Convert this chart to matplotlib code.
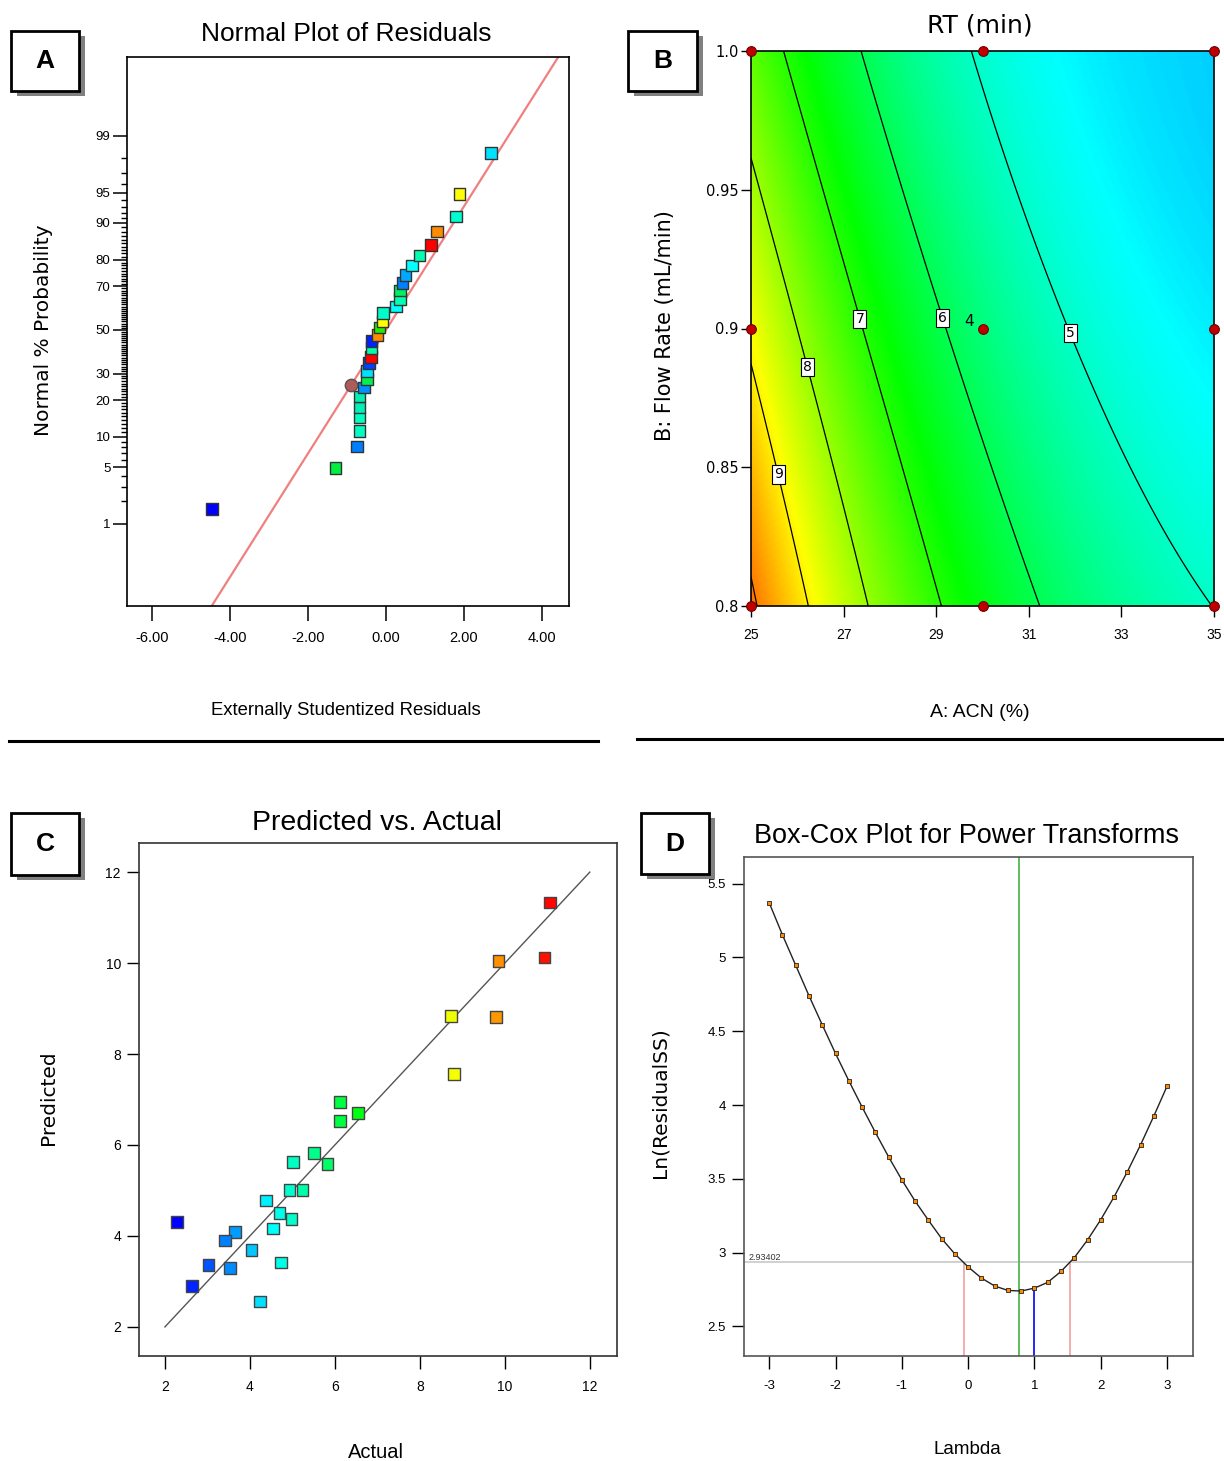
import numpy as np
import matplotlib
matplotlib.use("Agg")
import matplotlib.pyplot as plt
from matplotlib.colors import LinearSegmentedColormap, Normalize
from matplotlib.patches import Rectangle
from matplotlib.lines import Line2D
from statistics import NormalDist

plt.rcParams['axes.unicode_minus'] = False

W, H = 1224, 1461
ARIAL = ['Liberation Sans', 'DejaVu Sans']
SANS = ['DejaVu Sans']

# ---- A: normal probability plot of residuals
resid = [-4.46, -1.30, -0.74, -0.68, -0.68, -0.68, -0.68, -0.56, -0.49, -0.49, -0.44, -0.38,
         -0.37, -0.37, -0.22, -0.17, -0.09, -0.08, 0.25, 0.35, 0.35, 0.42, 0.50, 0.66, 0.86,
         1.16, 1.31, 1.79, 1.88, 2.69]
prob = [1.58, 4.85, 8.08, 11.3, 14.7, 17.6, 21.2, 24.5, 27.8, 31.2, 34.5, 37.1,
        41.3, 44.8, 47.6, 51.2, 54.0, 57.9, 61.0, 64.4, 68.1, 71.2, 74.5, 77.9, 81.3,
        84.6, 88.1, 91.3, 94.8, 98.3]
resid_col = ['#0000ff', '#00f040', '#0080ff', '#00ffc0', '#00ffc0', '#00f0b8', '#00f0b0', '#0090ff',
             '#00f050', '#00e0ff', '#0040ff', '#ff0000', '#00ffa8', '#0020ff', '#ff8c00', '#20f000',
             '#ffff00', '#00ffc8', '#00ffff', '#00ffb0', '#00f060', '#0080ff', '#00a8ff', '#00ffff',
             '#00ffb0', '#ff0000', '#ff8c00', '#00ffd0', '#ffff00', '#00e0ff']
flag_resid, flag_prob = -0.90, 25.5
prob_ticks = [1, 5, 10, 20, 30, 50, 70, 80, 90, 95, 99]
line_sigma = 1.35

# ---- B: RT response surface, ACN (%) x flow rate (mL/min)
acn_levels = [25, 30, 35]
flow_levels = [0.8, 0.9, 1.0]
center_reps = 4
contour_levels = [5, 6, 7, 8, 9, 10]
# coded-unit model terms: 1, A, B, AB, A^2, B^2, A^2B, AB^2, A^3, B^3
rt_coef = [5.64700, -2.08095, -0.84984, 0.43576, 0.95263, 0.08376, -0.06966, 0.09664, -0.14770, 0.04256]
label_pos = [(25.61, 0.8475), (26.24, 0.8863), (27.39, 0.9037), (29.17, 0.904), (31.85, 0.898)]

# ---- C: predicted vs actual
actual = [11.06, 10.93, 9.85, 9.79, 8.74, 8.81, 6.12, 6.55, 6.12, 5.51, 5.83, 5.02, 4.93, 5.24,
          4.38, 4.70, 4.98, 4.55, 3.65, 3.41, 4.04, 2.29, 3.03, 3.53, 4.73, 2.64, 4.24]
predicted = [11.33, 10.12, 10.04, 8.81, 8.84, 7.56, 6.94, 6.70, 6.53, 5.82, 5.58, 5.62, 5.01, 5.01,
             4.78, 4.51, 4.37, 4.16, 4.09, 3.90, 3.69, 4.30, 3.36, 3.29, 3.42, 2.90, 2.56]

# ---- D: Box-Cox
lam = [-3.0, -2.8, -2.6, -2.4, -2.2, -2.0, -1.8, -1.6, -1.4, -1.2, -1.0, -0.8, -0.6, -0.4, -0.2,
       0.0, 0.2, 0.4, 0.6, 0.8, 1.0, 1.2, 1.4, 1.6, 1.8, 2.0, 2.2, 2.4, 2.6, 2.8, 3.0]
ln_rss = [5.370, 5.152, 4.946, 4.740, 4.543, 4.349, 4.165, 3.987, 3.815, 3.649, 3.493, 3.349,
          3.220, 3.095, 2.991, 2.903, 2.828, 2.774, 2.744, 2.740, 2.760, 2.799, 2.873, 2.966,
          3.086, 3.224, 3.378, 3.548, 3.731, 3.926, 4.129]
ci_level = 2.93402
lam_best, lam_low, lam_high, lam_current = 0.77, -0.07, 1.54, 1.0

rt_cmap = LinearSegmentedColormap.from_list('rt', ['#0000ff', '#00ffff', '#00ff00', '#ffff00', '#ff0000'])
rt_norm = Normalize(2.3, 11.1)

fig = plt.figure(figsize=(W / 100, H / 100), dpi=100)


def px_axes(x0, y0, x1, y1):
    return fig.add_axes([x0 / W, 1 - y1 / H, (x1 - x0) / W, (y1 - y0) / H])


def ftext(x, y, s, **kw):
    fig.text(x / W, 1 - y / H, s, ha='center', va='center', **kw)


def letter_box(x0, y0, x1, y1, s):
    fig.add_artist(Rectangle(((x0 + 6) / W, 1 - (y1 + 5) / H), (x1 - x0) / W, (y1 - y0) / H,
                             transform=fig.transFigure, fc='#808080', ec='none'))
    fig.add_artist(Rectangle((x0 / W, 1 - y1 / H), (x1 - x0) / W, (y1 - y0) / H,
                             transform=fig.transFigure, fc='white', ec='black', lw=2))
    ftext((x0 + x1) / 2, (y0 + y1) / 2, s, fontsize=19, fontweight='bold', family=ARIAL)


nd = NormalDist()

# ---------------- A
ax = px_axes(127, 57, 569, 606)
z = [nd.inv_cdf(p / 100) for p in prob]
ax.axline((0, 0), slope=1 / line_sigma, color='#f08080', lw=1.6, zorder=2)
ax.scatter(resid, z, marker='s', s=70, c=resid_col, edgecolors='#333333', linewidths=1.0, zorder=3)
ax.scatter([flag_resid], [nd.inv_cdf(flag_prob / 100)], marker='o', s=80, c='#b05a5a',
           edgecolors='#555555', linewidths=1.0, zorder=4)
ax.set_xlim(-6.64, 4.69)
ax.set_ylim(-3.31, 3.27)
ax.set_xticks([-6, -4, -2, 0, 2, 4])
ax.set_xticklabels([f'{v:.2f}' for v in [-6, -4, -2, 0, 2, 4]], family=ARIAL, fontsize=10.5)
ax.set_yticks([nd.inv_cdf(p / 100) for p in prob_ticks])
ax.set_yticklabels([str(p) for p in prob_ticks], family=ARIAL, fontsize=9.5)
ax.set_yticks([nd.inv_cdf(p / 100) for p in range(1, 100) if p not in prob_ticks], minor=True)
ax.tick_params(axis='x', length=11, width=1.1, pad=7)
ax.tick_params(axis='y', which='major', length=10, width=1.1, pad=2)
ax.tick_params(axis='y', which='minor', length=4, width=1.0)
for s in ax.spines.values():
    s.set_linewidth(1.2)
ftext(346, 34, 'Normal Plot of Residuals', fontsize=19, family=ARIAL)
ftext(346, 710, 'Externally Studentized Residuals', fontsize=13.3, family=ARIAL)
ftext(44, 330, 'Normal % Probability', fontsize=14.5, family=SANS, rotation=90)
letter_box(11, 31, 79, 91, 'A')

# ---------------- B
ax = px_axes(751, 51, 1214, 606)
ga, gb = np.meshgrid(np.linspace(25, 35, 300), np.linspace(0.8, 1.0, 300))
ca, cb = (ga - 30) / 5, (gb - 0.9) / 0.1
basis = [np.ones_like(ca), ca, cb, ca * cb, ca ** 2, cb ** 2, ca ** 2 * cb, ca * cb ** 2, ca ** 3, cb ** 3]
rt = sum(c * t for c, t in zip(rt_coef, basis))
ax.imshow(rt, origin='lower', extent=(25, 35, 0.8, 1.0), aspect='auto', cmap=rt_cmap, norm=rt_norm,
          interpolation='bilinear')
cs = ax.contour(ga, gb, rt, levels=contour_levels, colors='black', linewidths=0.9)
lbls = ax.clabel(cs, levels=contour_levels[:5], manual=label_pos, inline=True, inline_spacing=3,
                 fontsize=10, fmt='%d')
for t in lbls:
    t.set_rotation(0)
    t.set_bbox(dict(fc='white', ec='black', lw=0.8, pad=1.5))
da, db = np.meshgrid(acn_levels, flow_levels)
ax.plot(da.ravel(), db.ravel(), 'o', ms=7, color='#c00000', mec='#700000', mew=0.8,
        clip_on=False, zorder=5)
ax.annotate(str(center_reps), (acn_levels[1], flow_levels[1]), xytext=(-6, 5), textcoords='offset points',
            ha='right', va='center', fontsize=11, family=SANS)
ax.set_xlim(25, 35)
ax.set_ylim(0.8, 1.0)
ax.set_xticks([25, 27, 29, 31, 33, 35])
ax.set_xticklabels(['25', '27', '29', '31', '33', '35'], family=ARIAL, fontsize=10)
ax.set_yticks([0.8, 0.85, 0.9, 0.95, 1.0])
ax.set_yticklabels(['0.8', '0.85', '0.9', '0.95', '1.0'], family=SANS, fontsize=10.5)
ax.tick_params(axis='x', length=8, width=1.0, pad=8)
ax.tick_params(axis='y', length=7, width=1.0, pad=2)
for s in ax.spines.values():
    s.set_linewidth(1.2)
ftext(980, 26, 'RT (min)', fontsize=18, family=SANS)
ftext(980, 712, 'A: ACN (%)', fontsize=14, family=ARIAL)
ftext(665, 326, 'B: Flow Rate (mL/min)', fontsize=15, family=SANS, rotation=90)
letter_box(628, 31, 697, 91, 'B')

# ---------------- C
ax = px_axes(139, 843, 617, 1356)
ax.plot([2, 12], [2, 12], color='#555555', lw=1.0, zorder=2)
ax.scatter(actual, predicted, marker='s', s=70, c=actual, cmap=rt_cmap, norm=rt_norm,
           edgecolors='#444444', linewidths=1.0, zorder=3)
ax.set_xlim(1.39, 12.64)
ax.set_ylim(1.36, 12.64)
ax.set_xticks([2, 4, 6, 8, 10, 12])
ax.set_yticks([2, 4, 6, 8, 10, 12])
ax.tick_params(length=9, width=1.0, pad=8, labelsize=10)
for t in ax.get_xticklabels() + ax.get_yticklabels():
    t.set_family(ARIAL)
ax.tick_params(axis='y', pad=4)
for s in ax.spines.values():
    s.set_linewidth(1.2)
    s.set_color('#333333')
ftext(377, 823, 'Predicted vs. Actual', fontsize=20.5, family=ARIAL)
ftext(376, 1452, 'Actual', fontsize=14.5, family=ARIAL)
ftext(48, 1098, 'Predicted', fontsize=14.5, family=SANS, rotation=90)
letter_box(11, 813, 79, 875, 'C')

# ---------------- D
ax = px_axes(744, 857, 1193, 1356)
y0 = 2.30
ax.axhline(ci_level, color='#c8c8c8', lw=1.2, zorder=1)
ax.axvline(lam_best, color='#5cbf5c', lw=1.4, zorder=1)
ax.vlines([lam_low, lam_high], y0, ci_level, color='#f4a0a0', lw=1.2, zorder=1)
ax.vlines([lam_current], y0, ln_rss[lam.index(lam_current)], color='#0000ff', lw=1.2, zorder=1)
ax.plot(lam, ln_rss, color='#222222', lw=1.0, zorder=2)
ax.plot(lam, ln_rss, 's', ms=3, color='#ff8c00', mec='#222222', mew=0.6, zorder=3)
ax.text(0.01, ci_level, f'{ci_level:.5f}', transform=ax.get_yaxis_transform(), fontsize=6.5,
        va='bottom', ha='left', color='#333333', family=ARIAL)
ax.set_xlim(-3.38, 3.39)
ax.set_ylim(y0, 5.68)
ax.set_xticks([-3, -2, -1, 0, 1, 2, 3])
ax.set_yticks([2.5, 3, 3.5, 4, 4.5, 5, 5.5])
ax.set_yticklabels(['2.5', '3', '3.5', '4', '4.5', '5', '5.5'])
ax.tick_params(length=9, width=1.0, pad=8, labelsize=9.5)
ax.tick_params(axis='y', pad=4)
for t in ax.get_xticklabels() + ax.get_yticklabels():
    t.set_family(ARIAL)
for s in ax.spines.values():
    s.set_linewidth(1.2)
    s.set_color('#555555')
ftext(967, 836, 'Box-Cox Plot for Power Transforms', fontsize=19.5, family=ARIAL)
ftext(967, 1449, 'Lambda', fontsize=13.5, family=ARIAL)
ftext(660, 1103, 'Ln(ResidualSS)', fontsize=14.5, family=SANS, rotation=90)
letter_box(641, 813, 709, 874, 'D')

# panel separators
fig.add_artist(Line2D([9 / W, 598 / W], [1 - 741 / H] * 2, color='black', lw=2.2))
fig.add_artist(Line2D([637 / W, 1224 / W], [1 - 739 / H] * 2, color='black', lw=2.2))

fig.savefig('out.png', dpi=100)
